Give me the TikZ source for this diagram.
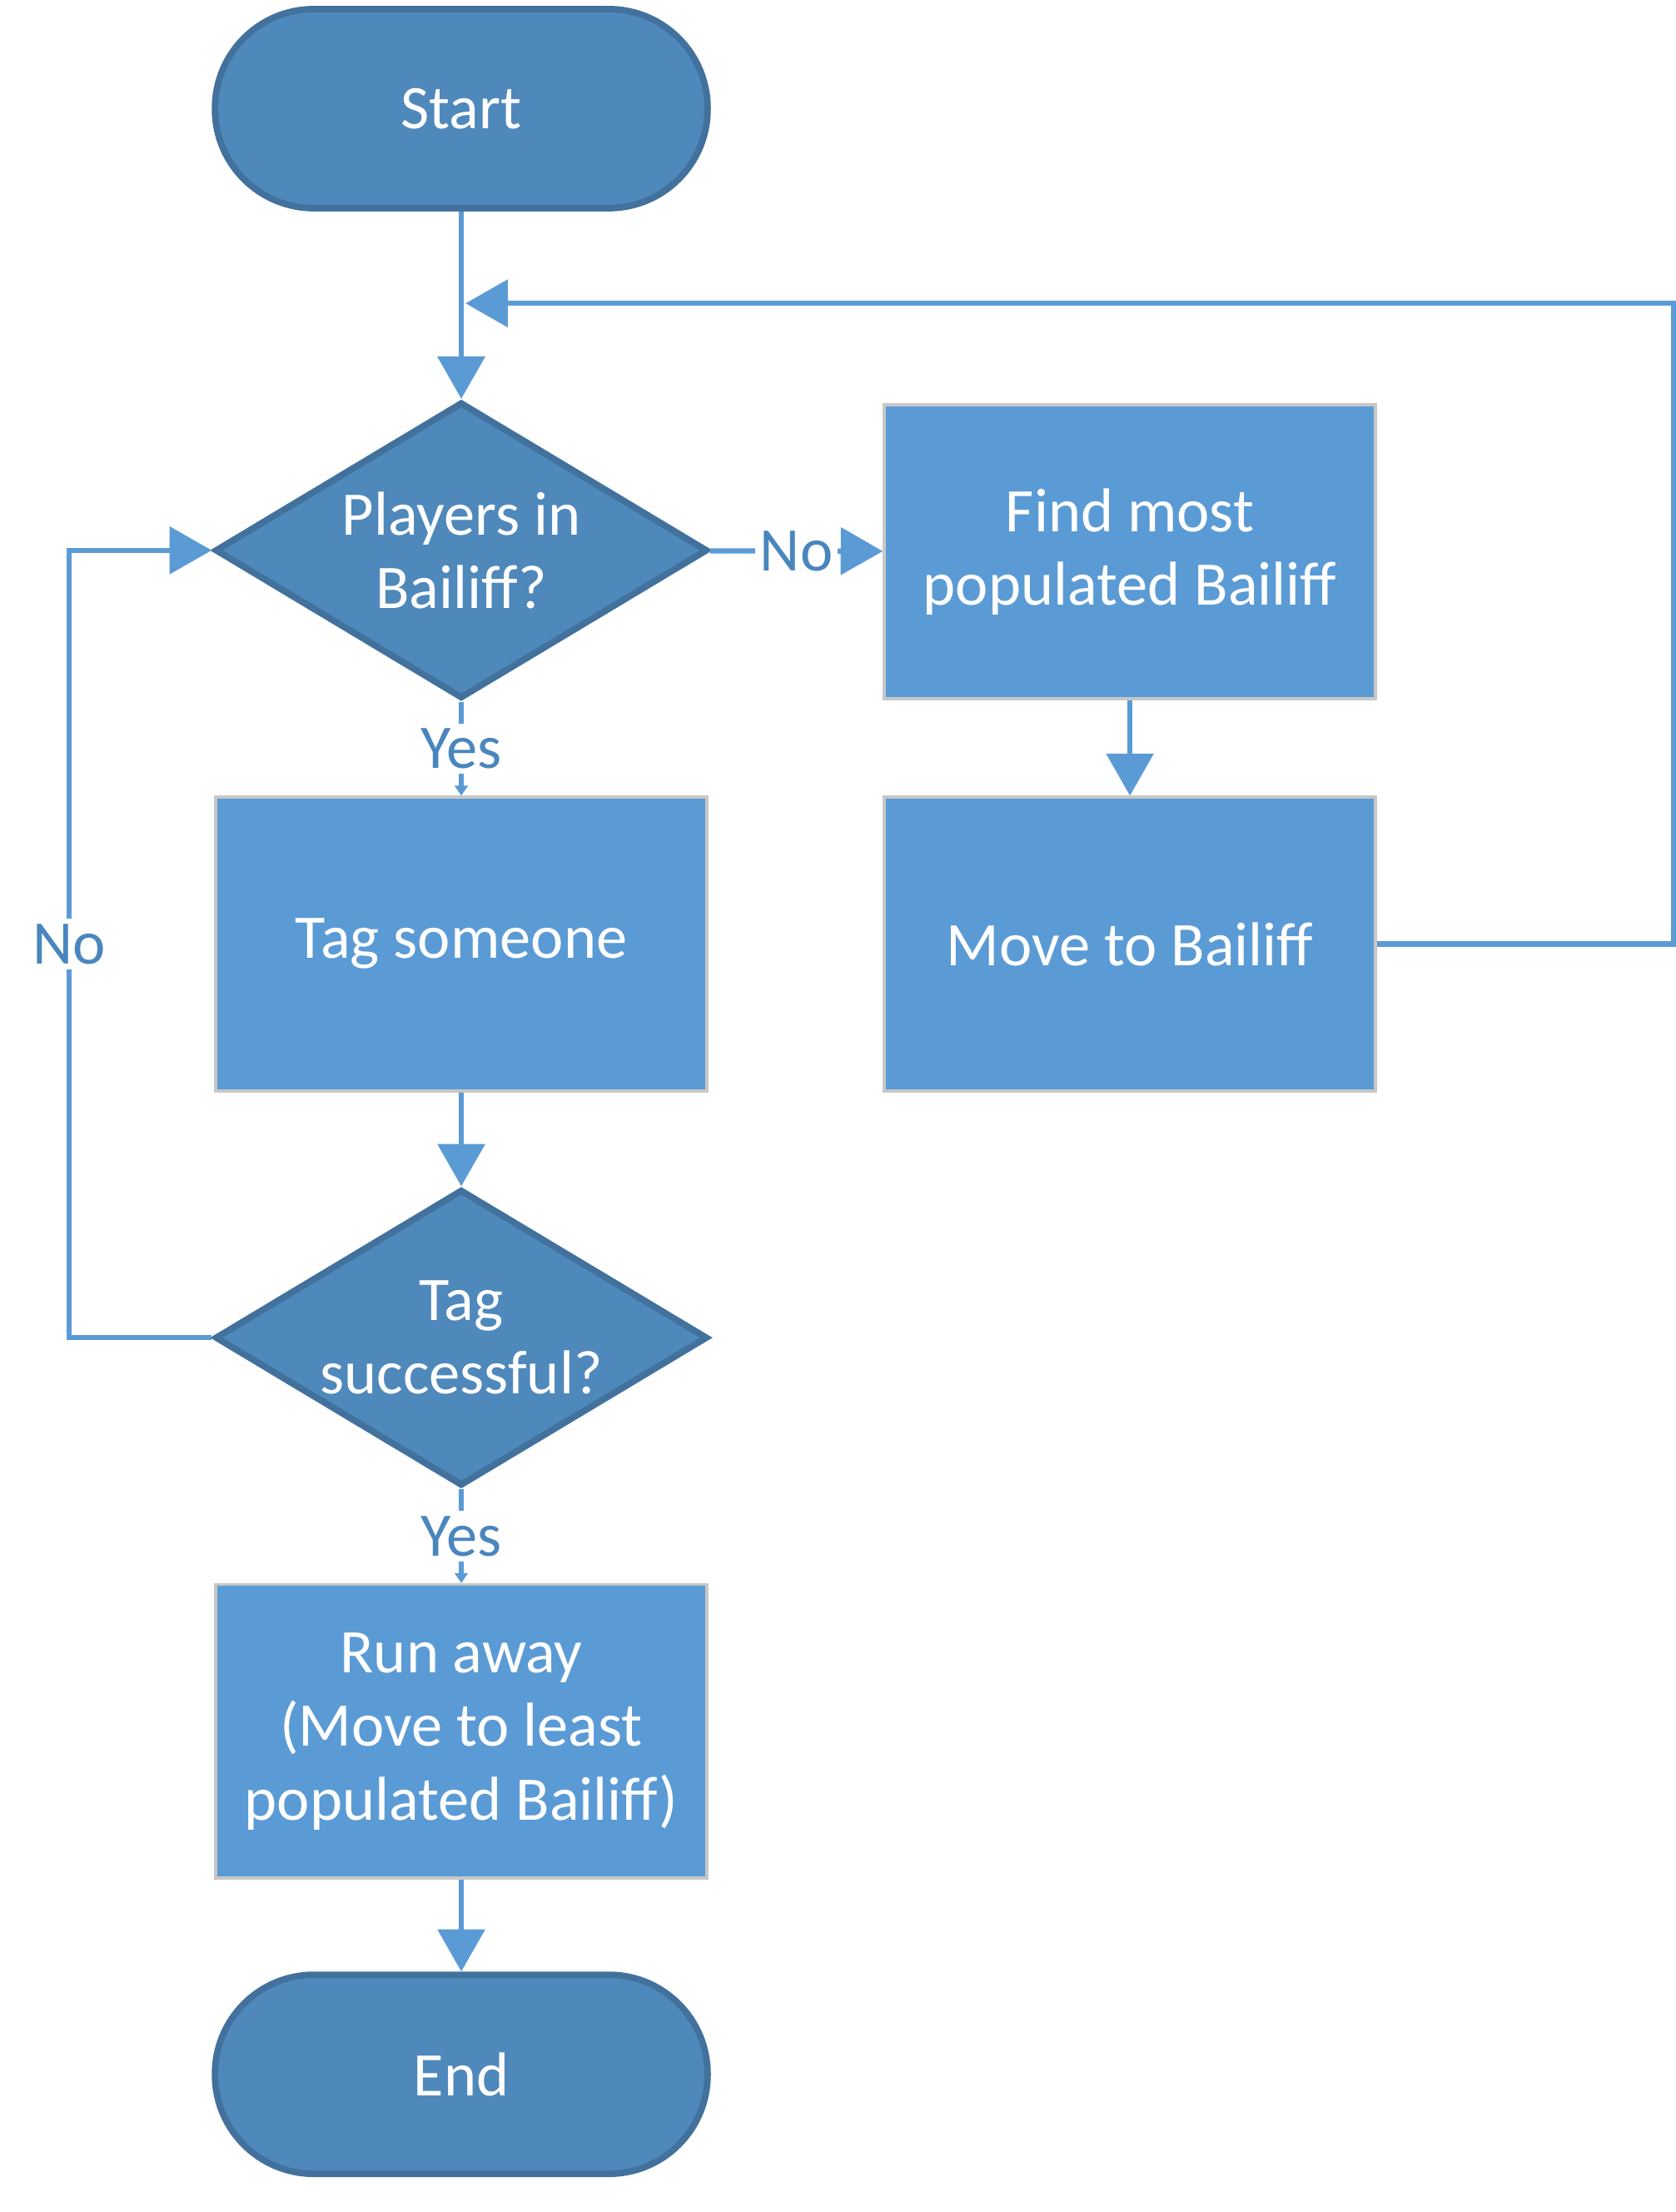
\documentclass[tikz,border=0pt]{standalone}
\usepackage{fontspec}
\setmainfont{Carlito}
\usepackage{tikz}
\usetikzlibrary{shapes.geometric,arrows.meta,positioning}
\definecolor{termfill}{HTML}{4F88BB}
\definecolor{termline}{HTML}{41719C}
\definecolor{procfill}{HTML}{5B9BD5}
\definecolor{flowline}{HTML}{5B9BD5}
\definecolor{lbltext}{HTML}{4A86BE}
\newcommand{\flowfont}{\fontsize{12.5}{14.8}\selectfont}
\tikzset{
  termbox/.style={rectangle, rounded corners=0.7cm, draw=termline,
                  line width=1.3pt, fill=termfill, minimum width=3.49cm,
                  minimum height=1.41cm, text=white, font=\flowfont},
  decbox/.style={diamond, aspect=1.66, draw=termline, line width=1.3pt,
                 fill=termfill, minimum width=3.49cm, minimum height=2.1cm,
                 inner sep=0pt, text=white, font=\flowfont, align=center},
  procbox/.style={rectangle, draw=black!22, line width=0.6pt, fill=procfill,
                  minimum width=3.48cm, minimum height=2.08cm, text=white,
                  font=\flowfont, align=center},
  flow/.style={-{Triangle[length=8.5pt, width=9.4pt]}, line width=1.05pt,
               flowline},
  shortflow/.style={-{Triangle[length=2pt, width=2.6pt]}, line width=1.05pt,
                    flowline},
  flowlbl/.style={fill=white, text=lbltext, font=\flowfont, inner sep=1pt},
}

\begin{document}
\begin{tikzpicture}[x=0.01cm, y=-0.01cm]

\useasboundingbox (0,0) rectangle (1188,1567.6);

% ── main column ────────────────────────────────────────────
\node[termbox] (start) at (327,77) {Start};
\node[decbox] (players) at (327,390) {Players in\\Bailiff?};
\node[procbox] (tag) at (327,669) {Tag someone};
\node[decbox] (tagok) at (327,948) {Tag\\successful?};
\node[procbox] (runaway) at (327,1227)
      {Run away\\(Move to least\\populated Bailiff)};
\node[termbox] (finish) at (327,1470) {End};

% ── right column ───────────────────────────────────────────
\node[procbox] (findmost) at (801,391) {Find most\\populated Bailiff};
\node[procbox] (moveto) at (801,669) {Move to Bailiff};

\coordinate (merge) at (330,215);

% ── connectors ─────────────────────────────────────────────
\draw[flow] (start) -- (players);
\draw[flow] (players) -- (findmost)
      node[midway, flowlbl] {No};
\draw[shortflow] (players) -- (tag)
      node[midway, flowlbl] {Yes};
\draw[flow] (tag) -- (tagok);
\draw[shortflow] (tagok) -- (runaway)
      node[midway, flowlbl] {Yes};
\draw[flow] (runaway) -- (finish);
\draw[flow] (findmost) -- (moveto);

% loop back from the right column
\draw[flow] (moveto.east) -- ++(210,0) |- (merge);
% retry loop on the left
\draw[flow] (tagok.west) -- ++(-101,0) |- (players.west)
      node[pos=0.25, flowlbl] {No};

\end{tikzpicture}
\end{document}
